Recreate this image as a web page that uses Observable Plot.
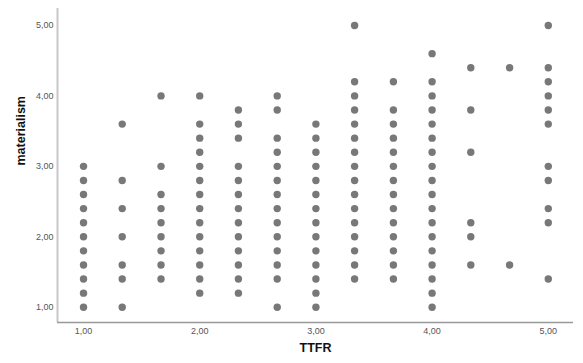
<!DOCTYPE html>
<html>
<head>
<meta charset="utf-8">
<script src="https://cdn.jsdelivr.net/npm/d3@7"></script>
<script src="https://cdn.jsdelivr.net/npm/@observablehq/plot@0.6"></script>
<style>
  html, body { margin: 0; padding: 0; background: #fff; }
  #chart svg { display: block; }
</style>
</head>
<body>
<div id="chart"></div>
<script>
// TTFR column values (x) and the materialism values (y) observed at each
const ttfr = [1.0, 1.333, 1.667, 2.0, 2.333, 2.667, 3.0, 3.333, 3.667, 4.0, 4.333, 4.667, 5.0];
const mat_100 = [3.0, 2.8, 2.6, 2.4, 2.2, 2.0, 1.8, 1.6, 1.4, 1.2, 1.0];
const mat_133 = [3.6, 2.8, 2.4, 2.0, 1.6, 1.4, 1.0];
const mat_167 = [4.0, 3.0, 2.6, 2.4, 2.2, 2.0, 1.8, 1.6, 1.4];
const mat_200 = [4.0, 3.6, 3.4, 3.2, 3.0, 2.8, 2.6, 2.4, 2.2, 2.0, 1.8, 1.6, 1.4, 1.2];
const mat_233 = [3.8, 3.6, 3.4, 3.0, 2.8, 2.6, 2.4, 2.2, 2.0, 1.8, 1.6, 1.4, 1.2];
const mat_267 = [4.0, 3.8, 3.4, 3.2, 3.0, 2.8, 2.6, 2.4, 2.2, 2.0, 1.8, 1.6, 1.4, 1.0];
const mat_300 = [3.6, 3.4, 3.2, 3.0, 2.8, 2.6, 2.4, 2.2, 2.0, 1.8, 1.6, 1.4, 1.2, 1.0];
const mat_333 = [5.0, 4.2, 4.0, 3.8, 3.6, 3.4, 3.2, 3.0, 2.8, 2.6, 2.4, 2.2, 2.0, 1.8, 1.6, 1.4];
const mat_367 = [4.2, 3.8, 3.6, 3.4, 3.2, 3.0, 2.8, 2.6, 2.4, 2.2, 2.0, 1.8, 1.6, 1.4];
const mat_400 = [4.6, 4.2, 4.0, 3.8, 3.6, 3.4, 3.2, 3.0, 2.8, 2.6, 2.4, 2.2, 2.0, 1.8, 1.6, 1.4, 1.2, 1.0];
const mat_433 = [4.4, 3.8, 3.2, 2.2, 2.0, 1.6];
const mat_467 = [4.4, 1.6];
const mat_500 = [5.0, 4.4, 4.2, 4.0, 3.8, 3.6, 3.0, 2.8, 2.4, 2.2, 1.4];

const columns = [mat_100, mat_133, mat_167, mat_200, mat_233, mat_267, mat_300,
                 mat_333, mat_367, mat_400, mat_433, mat_467, mat_500];

const xTicks = [1, 2, 3, 4, 5];
const yTicks = [1, 2, 3, 4, 5];
const xDomain = [0.776, 5.217];
const yDomain = [0.783, 5.241];

const points = columns.flatMap((ys, i) => ys.map(y => ({ x: ttfr[i], y })));
const fmt = d => d.toFixed(2).replace(".", ",");

const chart = Plot.plot({
  width: 583,
  height: 363,
  marginLeft: 57,
  marginRight: 10,
  marginTop: 8,
  marginBottom: 41,
  style: { fontFamily: "'Liberation Sans', Arial, sans-serif", background: "#fff" },
  x: { domain: xDomain },
  y: { domain: yDomain },
  marks: [
    Plot.axisX({ ticks: xTicks, tickFormat: fmt, tickSize: 0, tickPadding: 5,
      fontSize: 9, fill: "#555", label: null }),
    Plot.axisY({ ticks: yTicks, tickFormat: fmt, tickSize: 0, tickPadding: 4,
      fontSize: 9, fill: "#555", label: null }),
    Plot.ruleX([xDomain[0]], { stroke: "#c8c8c8", strokeWidth: 2 }),
    Plot.ruleY([yDomain[0]], { stroke: "#999", strokeWidth: 1.5 }),
    Plot.dot(points, { x: "x", y: "y", r: 3.7, fill: "#787878", stroke: "none" }),
    Plot.text(["materialism"], { frameAnchor: "left", dx: -37, rotate: -90,
      fontSize: 12.5, fontWeight: "bold", fill: "#111" }),
    Plot.text(["TTFR"], { frameAnchor: "bottom", dx: 0, dy: 29,
      fontSize: 12.5, fontWeight: "bold", fill: "#111" })
  ]
});

document.getElementById("chart").appendChild(chart);
</script>
</body>
</html>
